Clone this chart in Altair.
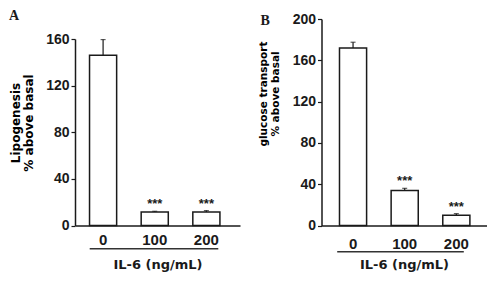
import altair as alt
import pandas as pd

# ---- data ----
doses = ["0", "100", "200"]
lipo_mean = [146, 11.5, 11.5]
lipo_err = [13.5, 0.7, 1.3]
gluc_mean = [172, 34, 10]
gluc_err = [5.5, 2.0, 1.5]
signif = ["", "***", "***"]
x_title = "IL-6 (ng/mL)"
lipo_title = ["Lipogenesis", "% above basal"]
gluc_title = ["glucose transport", "% above basal"]

W = 165
H = 206.5
INK = "#1a1a1a"


def panel(letter, mean, err, ymax, ytitle, tfs, tlh, ttx, tty, align,
          lab_pad, under, letter_xy, range_top):
    df = pd.DataFrame({
        "dose": doses,
        "mean": mean,
        "hi": [m + e for m, e in zip(mean, err)],
        "sig": signif,
    })
    xs = alt.Scale(domain=doses, paddingInner=0.475, paddingOuter=0.335, align=align)
    x = alt.X(
        "dose:N", scale=xs, sort=doses,
        axis=alt.Axis(
            title=x_title, labelAngle=0, ticks=False, tickSize=0,
            labelPadding=lab_pad, labelFont="Liberation Sans", labelFontWeight="bold",
            labelFontSize=15, labelColor=INK, domainColor=INK, domainWidth=1.5,
            titleFont="DejaVu Sans", titleFontWeight="bold", titleFontSize=13,
            titleColor=INK, titleBaseline="top", titleY=33,
        ),
    )
    yscale = alt.Scale(domain=[0, ymax], range=[H, range_top], nice=False)
    yaxis = alt.Axis(
        values=list(range(0, ymax + 1, 20)),
        labelExpr="datum.value % 40 === 0 ? datum.label : ''",
        tickSize={"condition": {"test": "datum.value % 40 === 0", "value": 4}, "value": 2},
        tickColor=INK, tickWidth=1.2, labelPadding=2,
        labelFont="Liberation Sans", labelFontWeight="bold", labelFontSize=14,
        labelColor=INK, grid=False, domainColor=INK, domainWidth=1.5,
        title=ytitle, titleFont="DejaVu Sans", titleFontSize=tfs,
        titleFontWeight="bold", titleLineHeight=tlh, titleBaseline="alphabetic",
        titleAlign="center", titleAngle=270, titleX=ttx, titleY=tty, titleColor="#000000",
    )
    base = alt.Chart(df)
    bars = base.mark_bar(fill="white", stroke=INK, strokeWidth=1.5).encode(
        x=x, y=alt.Y("mean:Q", scale=yscale, axis=yaxis)
    )
    errs = base.mark_rule(color=INK, strokeWidth=1.2).encode(
        x=alt.X("dose:N", sort=doses), y="mean:Q", y2="hi:Q"
    )
    caps = base.mark_tick(color=INK, size=5, thickness=1.2).encode(
        x=alt.X("dose:N", sort=doses), y="hi:Q"
    )
    stars = base.mark_text(
        font="Liberation Sans", fontWeight="bold", fontSize=13,
        baseline="alphabetic", dy=-3, color=INK,
    ).encode(x=alt.X("dose:N", sort=doses), y="hi:Q", text="sig:N")
    uline = alt.Chart(pd.DataFrame({"k": [0]})).mark_rule(
        color="#333333", strokeWidth=1.5
    ).encode(x=alt.value(under[0]), x2=alt.value(under[1]), y=alt.value(under[2]))
    lab = alt.Chart(pd.DataFrame({"t": [letter]})).mark_text(
        font="Liberation Serif", fontWeight="bold", fontSize=14,
        align="left", baseline="alphabetic", color=INK,
    ).encode(x=alt.value(letter_xy[0]), y=alt.value(letter_xy[1]), text="t:N")
    return alt.layer(bars, errs, caps, stars, uline, lab).properties(width=W, height=H)


pa = panel("A", lipo_mean, lipo_err, 160, lipo_title, 12, 13, -55.5, 103.5, 0.42,
           7, (14.7, 143.3, 229.8), (-66, 1.2), 20)
pb = panel("B", gluc_mean, gluc_err, 200, gluc_title, 10.5, 12.5, -55.5, 74.5, 0.52,
           11, (15.7, 142.3, 232.8), (-61, 5.5), 0)

chart = alt.hconcat(pa, pb, spacing=17.5).properties(
    padding={"left": 9, "top": 9, "right": 0, "bottom": 0},
    background="white",
).configure_view(stroke=None)

chart.save("out.html", embed_options={"renderer": "svg", "actions": False})
